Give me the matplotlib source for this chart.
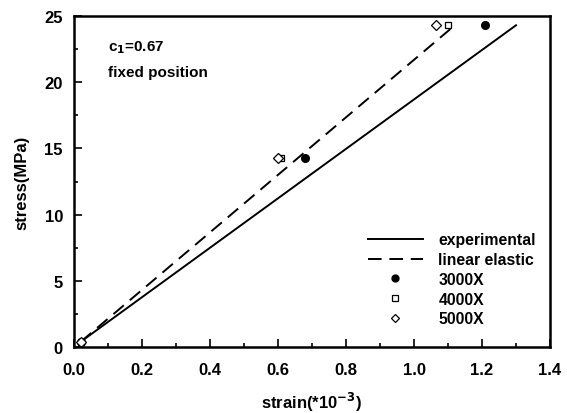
import numpy as np
import matplotlib
matplotlib.use('Agg')
import matplotlib.pyplot as plt
from matplotlib.ticker import MultipleLocator

plt.rcParams['font.family'] = ['Liberation Sans', 'DejaVu Sans']
plt.rcParams['font.weight'] = 'bold'

# lines
exp_x = [0.02, 1.30]
exp_y = [0.4, 24.3]
lin_x = [0.02, 1.12]
lin_y = [0.4, 24.3]

# markers
stress = [0.4, 14.3, 24.3]
s3000 = [0.02, 0.68, 1.21]
s4000 = [0.02, 0.61, 1.10]
s5000 = [0.02, 0.60, 1.065]

fig = plt.figure(figsize=(5.67, 4.14), dpi=100)
ax = fig.add_axes([74/567, 1 - 348/414, 476/567, 331/414])

ax.plot(exp_x, exp_y, color='black', lw=1.4, label='experimental')
ax.plot(lin_x, lin_y, color='black', lw=1.4, dashes=(7, 4), label='linear elastic')
ax.plot(s3000, stress, 'o', color='black', ms=5.5, ls='none', label='3000X')
ax.plot(s4000, stress, 's', mfc='white', mec='black', mew=0.9, ms=5, ls='none', label='4000X')
ax.plot(s5000, stress, 'D', mfc='white', mec='black', mew=0.9, ms=5, ls='none', label='5000X')

ax.set_xlim(0, 1.4)
ax.set_ylim(0, 25)
ax.xaxis.set_major_locator(MultipleLocator(0.2))
ax.xaxis.set_minor_locator(MultipleLocator(0.1))
ax.yaxis.set_major_locator(MultipleLocator(5))
ax.yaxis.set_minor_locator(MultipleLocator(2.5))
ax.xaxis.set_major_formatter(plt.FormatStrFormatter('%.1f'))
ax.tick_params(which='both', direction='in', top=False, right=False, labelsize=12, width=1.2)
ax.tick_params(which='major', length=6)
ax.tick_params(which='minor', length=3)
ax.tick_params(axis='x', pad=11)
ax.tick_params(axis='y', pad=8)
for s in ax.spines.values():
    s.set_linewidth(1.8)

ax.set_xlabel('strain(*10$^{-3}$)', fontsize=12, fontweight='bold', labelpad=9)
ax.set_ylabel('stress(MPa)', fontsize=12, fontweight='bold', labelpad=11)

ax.text(0.1, 22.7, 'c$_\\mathbf{1}$=0.67', fontsize=11, fontweight='bold', va='center')
ax.text(0.1, 20.8, 'fixed position', fontsize=11, fontweight='bold', va='center')

ax.legend(loc='lower right', frameon=False, fontsize=11.3, handlelength=3.5,
          handletextpad=1.0, labelspacing=0.3, markerscale=0.9,
          bbox_to_anchor=(1.0, 0.02))

plt.savefig('out.png', dpi=100)
